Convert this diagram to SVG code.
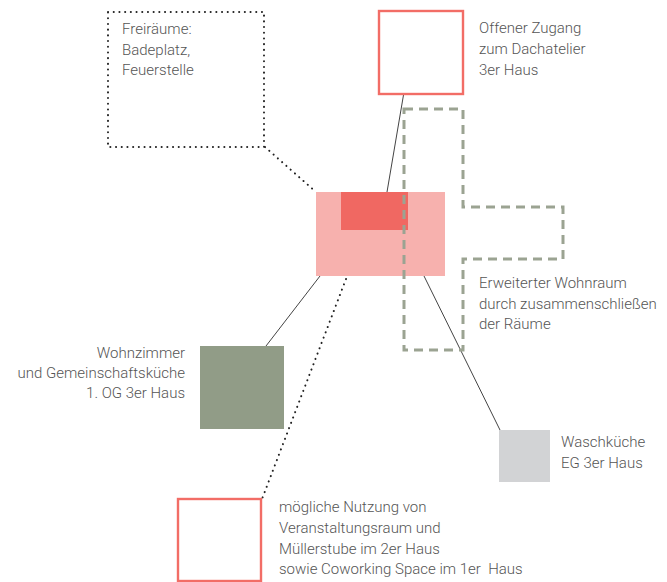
<svg xmlns="http://www.w3.org/2000/svg" width="667" height="582" viewBox="0 0 667 582">
  <style>
    .lbl { font-family: Roboto, "Liberation Sans", sans-serif; font-weight: 300; font-size: 15px; fill: #555; }
    .end { text-anchor: end; }
    .link { stroke: #444; stroke-width: 1; fill: none; }
    .dots { stroke: #222; stroke-width: 2; fill: none; stroke-dasharray: 0.1 5.6; stroke-linecap: round; }
    .redbox { fill: #fff; stroke: #f26d66; stroke-width: 2.4; }
  </style>
  <rect width="667" height="582" fill="#fff"/>

  <!-- connectors -->
  <g id="connectors">
    <line class="link" x1="404" y1="92" x2="387" y2="192"/>
    <line class="link" x1="320" y1="276" x2="266" y2="346"/>
    <line class="link" x1="424" y1="276" x2="500" y2="430"/>
    <line class="dots" x1="265" y1="147" x2="316" y2="192"/>
    <line class="dots" x1="346" y1="279" x2="262" y2="499"/>
  </g>

  <!-- outdoor spaces -->
  <g id="freiraeume">
    <rect class="dots" x="108" y="12" width="156" height="135"/>
    <text class="lbl" x="122" y="34">Freiräume:</text>
    <text class="lbl" x="122" y="55">Badeplatz,</text>
    <text class="lbl" x="122" y="75">Feuerstelle</text>
  </g>

  <!-- roof studio -->
  <g id="dachatelier">
    <rect class="redbox" x="379" y="11" width="84" height="83"/>
    <text class="lbl" x="479" y="33">Offener Zugang</text>
    <text class="lbl" x="479" y="54">zum Dachatelier</text>
    <text class="lbl" x="479" y="75">3er Haus</text>
  </g>

  <!-- central core -->
  <g id="kern">
    <rect x="316" y="192" width="129" height="84" fill="#f7b1ae"/>
    <rect x="341" y="192" width="67" height="38" fill="#f06862"/>
  </g>

  <!-- extended living space -->
  <g id="wohnraum">
    <path d="M404 109 H463 V207 H563 V259 H463 V350 H404 Z" fill="none" stroke="#9ba392" stroke-width="3" stroke-dasharray="9 6"/>
    <text class="lbl" x="479" y="288">Erweiterter Wohnraum</text>
    <text class="lbl" x="479" y="309">durch zusammenschließen</text>
    <text class="lbl" x="479" y="329">der Räume</text>
  </g>

  <!-- living room -->
  <g id="wohnzimmer">
    <rect x="200" y="346" width="84" height="83" fill="#919c87"/>
    <text class="lbl end" x="185" y="358">Wohnzimmer</text>
    <text class="lbl end" x="185" y="378">und Gemeinschaftsküche</text>
    <text class="lbl end" x="185" y="398">1. OG 3er Haus</text>
  </g>

  <!-- laundry -->
  <g id="waschkueche">
    <rect x="499" y="430" width="51" height="52" fill="#d2d3d5"/>
    <text class="lbl" x="561" y="447">Waschküche</text>
    <text class="lbl" x="561" y="468">EG 3er Haus</text>
  </g>

  <!-- event space -->
  <g id="veranstaltung">
    <rect class="redbox" x="178" y="499" width="83" height="82"/>
    <text class="lbl" x="279" y="512">mögliche Nutzung von</text>
    <text class="lbl" x="279" y="533">Veranstaltungsraum und</text>
    <text class="lbl" x="279" y="554">Müllerstube im 2er Haus</text>
    <text class="lbl" x="279" y="574" xml:space="preserve">sowie Coworking Space im 1er  Haus</text>
  </g>
</svg>
